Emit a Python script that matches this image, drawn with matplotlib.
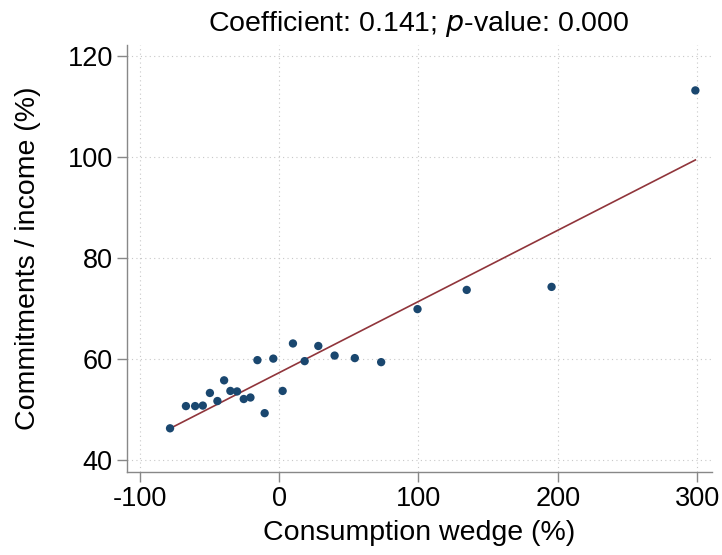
import numpy as np
import matplotlib
matplotlib.use('Agg')
import matplotlib.pyplot as plt

# binned means: consumption wedge (%) vs commitments / income (%)
wedge = [-78.2, -66.8, -60.2, -54.7, -49.6, -44.2, -39.4, -34.9, -30.1, -25.3,
         -20.5, -15.5, -10.3, -4.1, 2.6, 10.0, 18.4, 28.2, 39.9, 54.4,
         73.3, 99.4, 134.7, 195.6, 298.8]
commit = [46.2, 50.6, 50.6, 50.7, 53.2, 51.6, 55.7, 53.6, 53.5, 52.0,
          52.3, 59.7, 49.2, 60.0, 53.6, 63.0, 59.5, 62.5, 60.6, 60.1,
          59.3, 69.8, 73.6, 74.2, 113.1]

# fitted line
coef = 0.141
intercept = 57.2
pval = 0.000

xticks = [-100, 0, 100, 200, 300]
yticks = [40, 60, 80, 100, 120]

plt.rcParams['font.family'] = ['Liberation Sans', 'DejaVu Sans']
plt.rcParams['axes.unicode_minus'] = False

fig = plt.figure(figsize=(7.22, 5.55), dpi=100)
ax = fig.add_axes([0.1755, 0.150, 0.8102, 0.769])

gridcol = '#c8c8c8'
ax.grid(True, color=gridcol, linestyle=(0, (1, 3)), linewidth=0.8)
ax.set_axisbelow(True)

xs = np.array([min(wedge), max(wedge)])
ax.plot(xs, intercept + coef * xs, color='#90353b', linewidth=1.2, zorder=2)
ax.scatter(wedge, commit, s=36, color='#1a476f', edgecolors='none', zorder=3)

ax.set_xlim(-109.3, 310.5)
ax.set_ylim(37.6, 122.1)
ax.set_xticks(xticks)
ax.set_yticks(yticks)

for side in ['top', 'right']:
    ax.spines[side].set_visible(False)
for side in ['left', 'bottom']:
    ax.spines[side].set_color('#888888')
    ax.spines[side].set_linewidth(1.0)

ax.tick_params(axis='both', colors='#888888', labelcolor='black', length=7,
               width=1.0, labelsize=19.5, pad=3)

ax.set_xlabel('Consumption wedge (%)', fontsize=20.5, labelpad=6)
ax.set_ylabel('Commitments / income (%)', fontsize=20.5, labelpad=19)
ax.set_title('Coefficient: %.3f; $\\it{p}$-value: %.3f' % (coef, pval),
             fontsize=20.5, pad=10)

plt.savefig('out.png', dpi=100)
